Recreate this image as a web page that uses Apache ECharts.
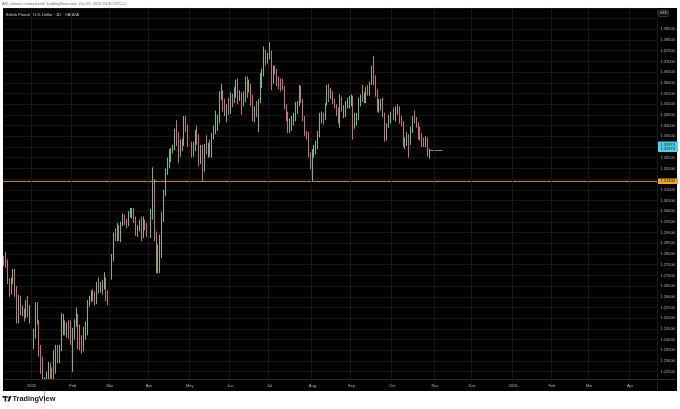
<!DOCTYPE html>
<html><head><meta charset="utf-8">
<script src="https://cdn.jsdelivr.net/npm/echarts@6/dist/echarts.min.js"></script>
<style>html,body{margin:0;padding:0;background:#fff}#c{width:680px;height:409px}</style>
</head><body><div id="c"></div>
<script>
// ---- calendar (weekday bars, incl. future empty slots like TradingView) ----
const firstDate = '2024-12-10';
const categoryCount = 352;
const closedDays = ['12-25', '01-01'];
const monthNames = ['Jan','Feb','Mar','Apr','May','Jun','Jul','Aug','Sep','Oct','Nov','Dec'];

// ---- daily bars [open, high, low, close] ----
const dec24 = [[1.2775,1.2790,1.2745,1.2760],[1.2760,1.2810,1.2735,1.2750],[1.2750,1.2775,1.2660,1.2665],[1.2665,1.2685,1.2600,1.2620],[1.2620,1.2690,1.2610,1.2685],[1.2685,1.2730,1.2660,1.2705],[1.2705,1.2730,1.2600,1.2630],[1.2630,1.2650,1.2475,1.2500],[1.2500,1.2610,1.2475,1.2570],[1.2570,1.2605,1.2515,1.2530],[1.2530,1.2560,1.2510,1.2535],[1.2535,1.2545,1.2485,1.2515],[1.2515,1.2585,1.2500,1.2575],[1.2575,1.2605,1.2505,1.2515],[1.2515,1.2560,1.2475,1.2515]];
const jan25 = [[1.2515,1.2525,1.2350,1.2375],[1.2375,1.2450,1.2355,1.2420],[1.2420,1.2575,1.2405,1.2515],[1.2515,1.2575,1.2470,1.2480],[1.2480,1.2490,1.2320,1.2345],[1.2345,1.2375,1.2240,1.2300],[1.2300,1.2320,1.2200,1.2205],[1.2205,1.2225,1.2100,1.2200],[1.2200,1.2250,1.2160,1.2210],[1.2210,1.2295,1.2185,1.2240],[1.2240,1.2290,1.2210,1.2235],[1.2235,1.2270,1.2160,1.2170],[1.2170,1.2350,1.2160,1.2310],[1.2310,1.2375,1.2240,1.2355],[1.2355,1.2375,1.2290,1.2300],[1.2300,1.2375,1.2290,1.2350],[1.2350,1.2525,1.2345,1.2480],[1.2480,1.2520,1.2420,1.2480],[1.2480,1.2490,1.2420,1.2435],[1.2435,1.2480,1.2410,1.2450],[1.2450,1.2490,1.2405,1.2420],[1.2420,1.2490,1.2375,1.2395]];
const feb25 = [[1.2395,1.2455,1.2250,1.2420],[1.2420,1.2495,1.2400,1.2480],[1.2480,1.2550,1.2460,1.2495],[1.2495,1.2520,1.2355,1.2440],[1.2440,1.2470,1.2350,1.2400],[1.2400,1.2420,1.2335,1.2360],[1.2360,1.2460,1.2345,1.2445],[1.2445,1.2485,1.2400,1.2455],[1.2455,1.2585,1.2420,1.2575],[1.2575,1.2605,1.2555,1.2580],[1.2580,1.2630,1.2575,1.2620],[1.2620,1.2635,1.2580,1.2610],[1.2610,1.2625,1.2560,1.2590],[1.2590,1.2670,1.2565,1.2660],[1.2660,1.2690,1.2615,1.2630],[1.2630,1.2670,1.2620,1.2655],[1.2655,1.2680,1.2610,1.2670],[1.2670,1.2715,1.2635,1.2675],[1.2675,1.2690,1.2580,1.2590],[1.2590,1.2630,1.2560,1.2575]];
const mar25 = [[1.2575,1.2705,1.2560,1.2700],[1.2700,1.2800,1.2680,1.2795],[1.2795,1.2900,1.2765,1.2895],[1.2895,1.2920,1.2860,1.2885],[1.2885,1.2945,1.2860,1.2920],[1.2920,1.2935,1.2860,1.2875],[1.2875,1.2950,1.2855,1.2945],[1.2945,1.2990,1.2930,1.2965],[1.2965,1.2985,1.2935,1.2950],[1.2950,1.2965,1.2920,1.2935],[1.2935,1.3000,1.2930,1.2990],[1.2990,1.3015,1.2970,1.3000],[1.3000,1.3015,1.2965,1.3010],[1.3010,1.3015,1.2945,1.2960],[1.2960,1.2975,1.2885,1.2915],[1.2915,1.2935,1.2880,1.2920],[1.2920,1.2960,1.2905,1.2945],[1.2945,1.2975,1.2860,1.2880],[1.2880,1.2975,1.2875,1.2950],[1.2950,1.2960,1.2910,1.2940],[1.2940,1.2945,1.2880,1.2915]];
const apr25 = [[1.2915,1.2945,1.2875,1.2920],[1.2920,1.3010,1.2875,1.2975],[1.2975,1.3205,1.2960,1.3100],[1.3100,1.3150,1.2860,1.2890],[1.2890,1.2905,1.2710,1.2730],[1.2730,1.2845,1.2710,1.2770],[1.2770,1.2890,1.2710,1.2800],[1.2800,1.2995,1.2780,1.2980],[1.2980,1.3100,1.2950,1.3085],[1.3085,1.3200,1.3070,1.3180],[1.3180,1.3250,1.3170,1.3230],[1.3230,1.3290,1.3200,1.3265],[1.3265,1.3295,1.3230,1.3285],[1.3285,1.3310,1.3270,1.3290],[1.3290,1.3385,1.3285,1.3375],[1.3375,1.3425,1.3305,1.3330],[1.3330,1.3370,1.3225,1.3260],[1.3260,1.3335,1.3255,1.3330],[1.3330,1.3340,1.3280,1.3310],[1.3310,1.3445,1.3305,1.3440],[1.3440,1.3445,1.3370,1.3400],[1.3400,1.3405,1.3300,1.3330]];
const may25 = [[1.3330,1.3345,1.3265,1.3285],[1.3285,1.3325,1.3250,1.3280],[1.3280,1.3325,1.3255,1.3300],[1.3300,1.3380,1.3280,1.3360],[1.3360,1.3400,1.3310,1.3335],[1.3335,1.3360,1.3210,1.3240],[1.3240,1.3310,1.3220,1.3300],[1.3300,1.3310,1.3140,1.3195],[1.3195,1.3315,1.3185,1.3305],[1.3305,1.3355,1.3265,1.3300],[1.3300,1.3320,1.3250,1.3305],[1.3305,1.3335,1.3255,1.3275],[1.3275,1.3365,1.3250,1.3360],[1.3360,1.3400,1.3335,1.3380],[1.3380,1.3470,1.3360,1.3410],[1.3410,1.3450,1.3375,1.3420],[1.3420,1.3560,1.3410,1.3535],[1.3535,1.3595,1.3520,1.3545],[1.3545,1.3565,1.3465,1.3505],[1.3505,1.3525,1.3445,1.3460],[1.3460,1.3500,1.3415,1.3485],[1.3485,1.3530,1.3450,1.3460]];
const jun25 = [[1.3460,1.3555,1.3455,1.3535],[1.3535,1.3550,1.3485,1.3520],[1.3520,1.3580,1.3505,1.3555],[1.3555,1.3615,1.3530,1.3570],[1.3570,1.3620,1.3500,1.3525],[1.3525,1.3565,1.3515,1.3550],[1.3550,1.3555,1.3450,1.3500],[1.3500,1.3560,1.3490,1.3550],[1.3550,1.3630,1.3510,1.3610],[1.3610,1.3630,1.3530,1.3570],[1.3570,1.3615,1.3555,1.3575],[1.3575,1.3595,1.3490,1.3505],[1.3505,1.3545,1.3420,1.3425],[1.3425,1.3490,1.3415,1.3480],[1.3480,1.3515,1.3440,1.3450],[1.3450,1.3525,1.3370,1.3520],[1.3520,1.3645,1.3505,1.3615],[1.3615,1.3665,1.3575,1.3645],[1.3645,1.3770,1.3630,1.3725],[1.3725,1.3755,1.3680,1.3715],[1.3715,1.3740,1.3690,1.3735]];
const jul25 = [[1.3735,1.3790,1.3710,1.3740],[1.3740,1.3750,1.3565,1.3640],[1.3640,1.3680,1.3595,1.3665],[1.3665,1.3680,1.3640,1.3655],[1.3655,1.3665,1.3585,1.3625],[1.3625,1.3630,1.3570,1.3595],[1.3595,1.3620,1.3560,1.3590],[1.3590,1.3620,1.3565,1.3570],[1.3570,1.3585,1.3475,1.3495],[1.3495,1.3500,1.3420,1.3440],[1.3440,1.3465,1.3365,1.3380],[1.3380,1.3435,1.3365,1.3415],[1.3415,1.3445,1.3375,1.3415],[1.3415,1.3460,1.3400,1.3445],[1.3445,1.3510,1.3420,1.3490],[1.3490,1.3515,1.3455,1.3495],[1.3495,1.3590,1.3490,1.3575],[1.3575,1.3585,1.3505,1.3510],[1.3510,1.3525,1.3420,1.3435],[1.3435,1.3445,1.3350,1.3355],[1.3355,1.3375,1.3335,1.3350],[1.3350,1.3370,1.3250,1.3260],[1.3260,1.3275,1.3195,1.3205]];
const aug25 = [[1.3205,1.3290,1.3140,1.3275],[1.3275,1.3310,1.3250,1.3285],[1.3285,1.3330,1.3265,1.3300],[1.3300,1.3375,1.3290,1.3360],[1.3360,1.3460,1.3345,1.3450],[1.3450,1.3465,1.3410,1.3450],[1.3450,1.3460,1.3405,1.3430],[1.3430,1.3505,1.3425,1.3500],[1.3500,1.3590,1.3495,1.3570],[1.3570,1.3595,1.3510,1.3530],[1.3530,1.3575,1.3525,1.3555],[1.3555,1.3560,1.3500,1.3520],[1.3520,1.3525,1.3480,1.3495],[1.3495,1.3500,1.3445,1.3465],[1.3465,1.3485,1.3410,1.3415],[1.3415,1.3545,1.3390,1.3530],[1.3530,1.3535,1.3465,1.3475],[1.3475,1.3495,1.3435,1.3475],[1.3475,1.3515,1.3440,1.3495],[1.3495,1.3530,1.3480,1.3500],[1.3500,1.3540,1.3480,1.3505]];
const sep25 = [[1.3505,1.3545,1.3490,1.3530],[1.3530,1.3540,1.3335,1.3390],[1.3390,1.3460,1.3385,1.3440],[1.3440,1.3460,1.3400,1.3440],[1.3440,1.3530,1.3425,1.3505],[1.3505,1.3545,1.3490,1.3530],[1.3530,1.3590,1.3510,1.3525],[1.3525,1.3555,1.3505,1.3530],[1.3530,1.3580,1.3505,1.3565],[1.3565,1.3590,1.3540,1.3555],[1.3555,1.3605,1.3540,1.3600],[1.3600,1.3680,1.3590,1.3640],[1.3640,1.3725,1.3590,1.3625],[1.3625,1.3635,1.3535,1.3550],[1.3550,1.3570,1.3465,1.3470],[1.3470,1.3525,1.3460,1.3510],[1.3510,1.3525,1.3470,1.3520],[1.3520,1.3530,1.3440,1.3445],[1.3445,1.3460,1.3325,1.3340],[1.3340,1.3410,1.3330,1.3400],[1.3400,1.3450,1.3390,1.3435],[1.3435,1.3465,1.3410,1.3445]];
const oct25 = [[1.3445,1.3495,1.3415,1.3480],[1.3480,1.3485,1.3425,1.3440],[1.3440,1.3490,1.3420,1.3475],[1.3475,1.3500,1.3450,1.3480],[1.3480,1.3490,1.3410,1.3425],[1.3425,1.3445,1.3395,1.3410],[1.3410,1.3420,1.3300,1.3300],[1.3300,1.3345,1.3290,1.3315],[1.3315,1.3370,1.3305,1.3335],[1.3335,1.3360,1.3250,1.3320],[1.3320,1.3395,1.3310,1.3390],[1.3390,1.3445,1.3365,1.3435],[1.3435,1.3470,1.3410,1.3430],[1.3430,1.3440,1.3390,1.3400],[1.3400,1.3415,1.3335,1.3370],[1.3370,1.3395,1.3330,1.3350],[1.3350,1.3365,1.3300,1.3330],[1.3330,1.3345,1.3300,1.3310],[1.3310,1.3350,1.3300,1.3335],[1.3335,1.3345,1.3255,1.3270],[1.3270,1.3292,1.3245,1.3287]];

// ---- levels & labels ----
const supportLevel = 1.3140;
const lastPrice = 1.3287;
const lastPriceLabels = ['1.32874', '1.32870'];
const priceTickMin = 1.225, priceTickMax = 1.385;
const headerText = 'AH_visitors created with TradingView.com, Oct 29, 2025 01:30 UTC-5';
const titleText = 'British Pound / U.S. Dollar \u00b7 1D \u00b7 OANDA';

// ---- build ----
const categories = [];
{
  const d = new Date(firstDate + 'T00:00:00Z');
  while (categories.length < categoryCount) {
    const wd = d.getUTCDay();
    const s = d.toISOString().slice(0, 10);
    if (wd !== 0 && wd !== 6 && !closedDays.includes(s.slice(5))) categories.push(s);
    d.setUTCDate(d.getUTCDate() + 1);
  }
}
const isMonthStart = categories.map((c, i) => i > 0 && c.slice(5, 7) !== categories[i - 1].slice(5, 7));
const bars = [].concat(dec24, jan25, feb25, mar25, apr25, may25, jun25, jul25, aug25, sep25, oct25);
const candleData = bars.map(b => [b[0], b[3], b[2], b[1]]);
const lastIdx = bars.length - 1;

const FONT = 'Liberation Sans, Arial, sans-serif';
const chart = echarts.init(document.getElementById('c'), null, { renderer: 'canvas' });
chart.setOption({
  animation: false,
  backgroundColor: '#ffffff',
  textStyle: { fontFamily: FONT },
  grid: { left: 3, right: 23, top: 7.9, bottom: 26.6, containLabel: false },
  xAxis: {
    type: 'category', data: categories, boundaryGap: true, z: 10,
    axisLine: { show: false }, axisTick: { show: false },
    axisLabel: {
      interval: (i) => isMonthStart[i], color: '#b2b5be', fontSize: 4, margin: 1.5, fontFamily: FONT,
      formatter: (v) => { const m = +v.slice(5, 7); return m === 1 ? v.slice(0, 4) : monthNames[m - 1]; }
    },
    splitLine: { show: true, interval: (i) => isMonthStart[i], lineStyle: { color: '#161616', width: 1 } }
  },
  yAxis: {
    type: 'value', position: 'right', min: 1.220, max: 1.395, interval: 0.005, scale: true,
    axisLine: { show: false }, axisTick: { show: false },
    axisLabel: {
      color: '#b2b5be', fontSize: 4, margin: 3.5, fontFamily: FONT,
      formatter: (v) => {
        if (v < priceTickMin - 1e-6 || v > priceTickMax + 1e-6) return '';
        if (Math.abs(v - 1.315) < 1e-6 || Math.abs(v - 1.330) < 1e-6) return '';
        return v.toFixed(5);
      }
    },
    splitLine: { lineStyle: { color: '#161616', width: 1 } }
  },
  series: [{
    type: 'candlestick', data: candleData, barWidth: 1.2, clip: true,
    itemStyle: { color: '#7fcf93', color0: '#ec7690', borderColor: '#7fcf93', borderColor0: '#ec7690', borderWidth: 0.9 },
    markLine: {
      symbol: 'none', silent: true, animation: false, precision: 5,
      data: [
        { yAxis: supportLevel, lineStyle: { color: '#c98218', width: 1, type: 'solid' },
          label: { show: true, position: 'end', distance: 0.5, formatter: supportLevel.toFixed(5), backgroundColor: '#f5a623', color: '#111', fontSize: 4, padding: [1, 3, 0.5, 3], fontFamily: FONT } },
        [ { coord: [categories[lastIdx], lastPrice], lineStyle: { color: '#6d9495', width: 1, type: 'solid' }, label: { show: false } },
          { coord: [categories[lastIdx + 7], lastPrice] } ],
        { yAxis: lastPrice, lineStyle: { color: 'rgba(0,0,0,0)', width: 0 },
          label: { show: true, position: 'end', distance: 0.5, offset: [0, -3], formatter: lastPriceLabels.join('\n'), lineHeight: 4.6, backgroundColor: '#4fd3e6', color: '#0b1a1f', fontSize: 4, padding: [0.8, 3, 0.5, 3], fontFamily: FONT } }
      ]
    }
  }],
  graphic: [
    { type: 'rect', z: -10, shape: { x: 3, y: 8, width: 674, height: 383 }, style: { fill: '#000000' } },
    { type: 'rect', z: 3, shape: { x: 3, y: 379.5, width: 654, height: 11.5 }, style: { fill: '#000000' } },
    { type: 'line', z: 4, shape: { x1: 657.5, y1: 8, x2: 657.5, y2: 391 }, style: { stroke: '#2b2b2b', lineWidth: 1 } },
    { type: 'line', z: 4, shape: { x1: 3, y1: 379.5, x2: 677, y2: 379.5 }, style: { stroke: '#2b2b2b', lineWidth: 1 } },
    { type: 'text', z: 5, left: 2, top: 2, style: { text: headerText, fill: '#6a6a6a', fontSize: 4, fontFamily: FONT } },
    { type: 'text', z: 5, left: 6, top: 12.5, style: { text: titleText, fill: '#d1d4dc', fontSize: 4, fontFamily: FONT } },
    { type: 'rect', z: 5, shape: { x: 658.5, y: 10, width: 10, height: 6.5, r: 1 }, style: { fill: '#111', stroke: '#555', lineWidth: 0.6 } },
    { type: 'text', z: 6, x: 663.5, y: 13.3, style: { text: 'USD', fill: '#d1d4dc', fontSize: 3.6, fontFamily: FONT, align: 'center', verticalAlign: 'middle' } },
    { type: 'rect', z: 5, shape: { x: 2.5, y: 396, width: 4.2, height: 1.6 }, style: { fill: '#131722' } },
    { type: 'rect', z: 5, shape: { x: 4.6, y: 396, width: 1.6, height: 5.5 }, style: { fill: '#131722' } },
    { type: 'circle', z: 5, shape: { cx: 7.9, cy: 397.1, r: 0.9 }, style: { fill: '#131722' } },
    { type: 'polygon', z: 5, shape: { points: [[9.6, 396], [11.6, 396], [9.4, 401.5], [7.4, 401.5]] }, style: { fill: '#131722' } },
    { type: 'text', z: 5, left: 12.5, top: 395.2, style: { text: 'TradingView', fill: '#131722', fontSize: 7.3, fontWeight: 'bold', fontFamily: FONT } }
  ]
});
</script></body></html>
